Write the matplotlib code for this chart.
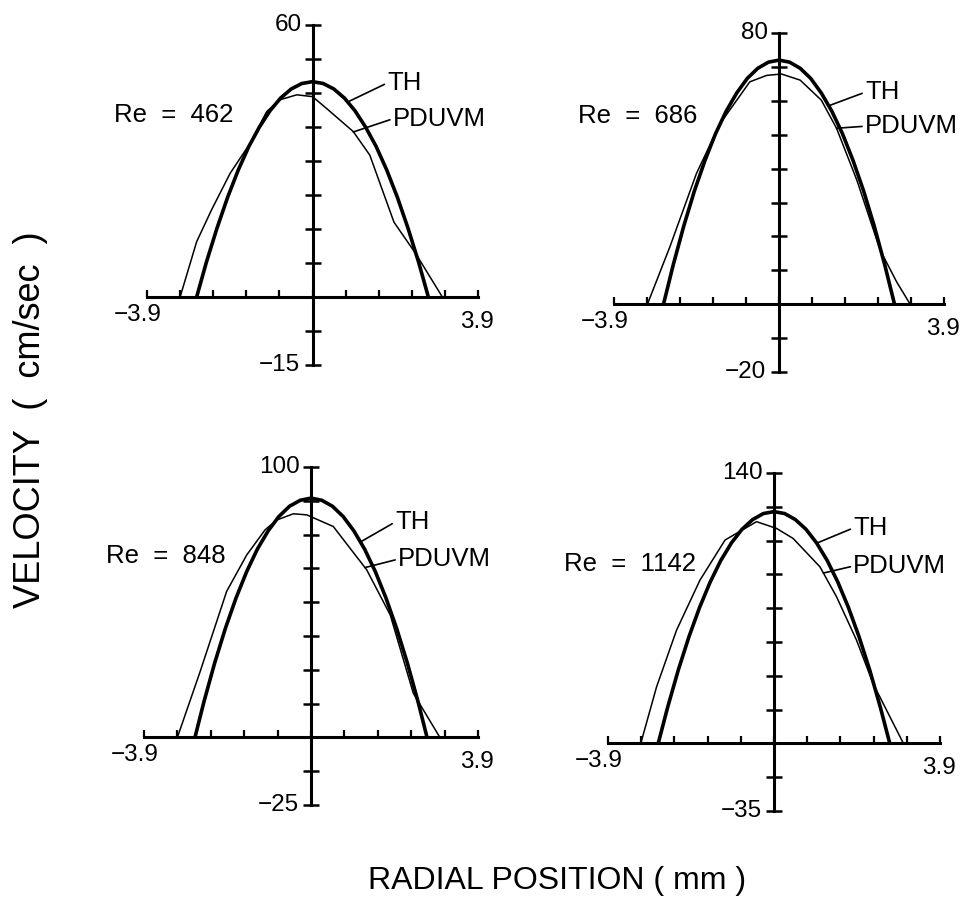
import numpy as np
import matplotlib
matplotlib.use("Agg")
import matplotlib.pyplot as plt

plt.rcParams["font.family"] = ["Liberation Sans", "DejaVu Sans"]

W, H = 966, 900

RE_NUMBERS = [462, 686, 848, 1142]
V_TOP = [60, 80, 100, 140]
V_BOTTOM = [-15, -20, -25, -35]
R_WALL = 3.9

# theoretical profiles (TH), radial position in mm, velocity in cm/sec
th_r_462 = [-2.73, -2.5, -2.25, -2.0, -1.75, -1.5, -1.25, -1.0, -0.75, -0.5, -0.25, 0.0,
             0.25, 0.5, 0.75, 1.0, 1.25, 1.5, 1.75, 2.0, 2.25, 2.5, 2.73]
th_v_462 = [0, 7.7, 15.2, 22.0, 28.0, 33.2, 37.5, 41.1, 43.9, 45.9, 47.1, 47.5,
            47.1, 45.9, 43.9, 41.1, 37.5, 33.2, 28.0, 22.0, 15.2, 7.7, 0]
th_r_686 = [-2.73, -2.5, -2.25, -2.0, -1.75, -1.5, -1.25, -1.0, -0.75, -0.5, -0.25, 0.0,
            0.25, 0.5, 0.75, 1.0, 1.25, 1.5, 1.75, 2.0, 2.25, 2.5, 2.73]
th_v_686 = [0, 11.6, 23.1, 33.4, 42.4, 50.3, 56.9, 62.3, 66.6, 69.6, 71.4, 72.0,
            71.4, 69.6, 66.6, 62.3, 56.9, 50.3, 42.4, 33.4, 23.1, 11.6, 0]
th_r_848 = [-2.71, -2.5, -2.25, -2.0, -1.75, -1.5, -1.25, -1.0, -0.75, -0.5, -0.25, 0.0,
            0.25, 0.5, 0.75, 1.0, 1.25, 1.5, 1.75, 2.0, 2.25, 2.5, 2.71]
th_v_848 = [0, 13.2, 27.5, 40.3, 51.6, 61.4, 69.7, 76.4, 81.7, 85.5, 87.7, 88.5,
            87.7, 85.5, 81.7, 76.4, 69.7, 61.4, 51.6, 40.3, 27.5, 13.2, 0]
th_r_1142 = [-2.72, -2.5, -2.25, -2.0, -1.75, -1.5, -1.25, -1.0, -0.75, -0.5, -0.25, 0.0,
             0.25, 0.5, 0.75, 1.0, 1.25, 1.5, 1.75, 2.0, 2.25, 2.5, 2.72]
th_v_1142 = [0, 18.6, 37.9, 55.1, 70.3, 83.5, 94.7, 103.8, 110.9, 115.9, 119.0, 120.0,
             119.0, 115.9, 110.9, 103.8, 94.7, 83.5, 70.3, 55.1, 37.9, 18.6, 0]

# measured profiles (PDUVM)
pd_r_462 = [-3.12, -2.73, -2.38, -1.94, -1.47, -1.08, -0.77, -0.37, 0.0, 0.33, 0.96, 1.35, 1.92, 2.43, 3.06]
pd_v_462 = [0, 12.2, 19.2, 27.3, 33.9, 40.9, 43.5, 44.6, 44.2, 41.6, 36.5, 31.3, 16.5, 9.6, 0]
pd_r_686 = [-3.11, -2.58, -1.95, -1.39, -0.69, -0.29, 0.06, 0.50, 1.00, 1.36, 1.84, 2.39, 2.78, 3.10]
pd_v_686 = [0, 16.9, 38.6, 53.3, 65.6, 67.5, 67.9, 66.1, 60.2, 51.9, 36.6, 16.0, 6.6, 0]
pd_r_848 = [-3.12, -2.59, -1.97, -1.50, -1.07, -0.80, -0.41, -0.1, 0.52, 1.30, 1.85, 2.39, 3.01]
pd_v_848 = [0, 24.3, 54.0, 67.5, 76.8, 80.4, 82.7, 82.3, 78.0, 62.0, 45.3, 16.3, 0]
pd_r_1142 = [-3.13, -2.76, -2.29, -1.74, -1.15, -0.41, 0.06, 0.45, 1.08, 1.47, 1.94, 2.33, 3.04]
pd_v_1142 = [0, 29.2, 58.6, 84.5, 105.3, 114.8, 111.3, 106.1, 91.4, 75.9, 53.4, 30.9, 0]

TH_R = [th_r_462, th_r_686, th_r_848, th_r_1142]
TH_V = [th_v_462, th_v_686, th_v_848, th_v_1142]
PD_R = [pd_r_462, pd_r_686, pd_r_848, pd_r_1142]
PD_V = [pd_v_462, pd_v_686, pd_v_848, pd_v_1142]

# panel frames in pixels: left, top, right, bottom
BOXES = [(147, 25, 478, 365), (614, 33, 944, 372),
         (144, 467, 478, 805), (608, 473, 940, 811)]

# label placement in data units of each panel
RE_POS = [(-3.26, 40.1), (-3.33, 55.5), (-3.39, 67.0), (-3.38, 92.8)]
TH_TEXT = [(1.76, 47.2), (2.03, 62.5), (1.96, 79.6), (1.86, 111.5)]
TH_TIP = [(0.87, 43.2), (1.19, 58.6), (1.18, 72.5), (1.04, 104.0)]
PD_TEXT = [(1.89, 39.3), (2.03, 52.5), (2.03, 65.9), (1.86, 91.8)]
PD_TIP = [(0.96, 36.4), (1.36, 51.9), (1.26, 62.8), (1.16, 88.2)]

fig = plt.figure(figsize=(W / 100, H / 100), dpi=100)

for i in range(4):
    left, top, right, bottom = BOXES[i]
    ax = fig.add_axes([left / W, 1 - bottom / H, (right - left) / W, (bottom - top) / H])
    vtop, vbot = V_TOP[i], V_BOTTOM[i]
    ax.set_xlim(-R_WALL, R_WALL)
    ax.set_ylim(vbot, vtop)
    ax.patch.set_alpha(0)
    ax.spines["top"].set_visible(False)
    ax.spines["right"].set_visible(False)
    ax.spines["left"].set_position(("data", 0))
    ax.spines["bottom"].set_position(("data", 0))
    ax.spines["left"].set_linewidth(2.2)
    ax.spines["bottom"].set_linewidth(2.2)
    ax.set_xticks(np.linspace(-R_WALL, R_WALL, 11))
    ax.set_yticks(np.linspace(vbot, vtop, 11))
    ax.set_xticklabels([])
    ax.set_yticklabels([])
    ax.tick_params(axis="x", direction="in", length=5, width=1.6)
    ax.tick_params(axis="y", direction="inout", length=11, width=1.8)

    ax.plot(PD_R[i], PD_V[i], color="black", lw=1.1, clip_on=False)
    ax.plot(TH_R[i], TH_V[i], color="black", lw=2.6, clip_on=False,
            solid_capstyle="butt")

    # end labels of the axes
    ax.annotate(f"{vtop}", xy=(0, vtop), xytext=(-8, 0), textcoords="offset points",
                ha="right", va="center", fontsize=17.5)
    ax.annotate(f"\u2212{abs(vbot)}", xy=(0, vbot), xytext=(-9, 0),
                textcoords="offset points", ha="right", va="center", fontsize=17.5)
    ax.annotate("\u22123.9", xy=(-R_WALL, 0), xytext=(-7, -13),
                textcoords="offset points", ha="center", va="center", fontsize=17.5)
    ax.annotate("3.9", xy=(R_WALL, 0), xytext=(-1, -18),
                textcoords="offset points", ha="center", va="center", fontsize=17.5)

    ax.text(*RE_POS[i], f"Re  =  {RE_NUMBERS[i]}", ha="center", va="center",
            fontsize=18.5, clip_on=False)
    leader = dict(arrowstyle="-", lw=1.2, color="black", shrinkA=0, shrinkB=0,
                  relpos=(0, 0.5))
    ax.annotate("TH", xy=TH_TIP[i], xytext=TH_TEXT[i], ha="left", va="center",
                fontsize=18.5, arrowprops=leader)
    ax.annotate("PDUVM", xy=PD_TIP[i], xytext=PD_TEXT[i], ha="left", va="center",
                fontsize=18.5, arrowprops=leader)

fig.text(31 / W, 1 - 420 / H, "VELOCITY  (  cm/sec  )", rotation=90,
         ha="center", va="center", fontsize=26)
fig.text(557 / W, 1 - 881 / H, "RADIAL POSITION ( mm )",
         ha="center", va="center", fontsize=23)

fig.savefig("out.png", dpi=100)
